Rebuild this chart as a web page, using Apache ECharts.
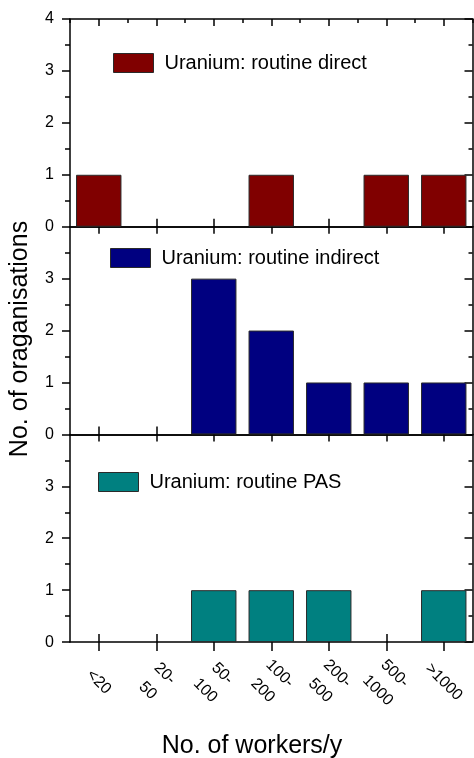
<!DOCTYPE html>
<html>
<head>
<meta charset="utf-8">
<script src="https://cdn.jsdelivr.net/npm/echarts@6/dist/echarts.min.js"></script>
<style>
html,body{margin:0;padding:0;background:#fff;}
#chart{width:474px;height:758px;}
</style>
</head>
<body>
<div id="chart"></div>
<script>
// ---- data ----
const categories = ['<20', '20-\n50', '50-\n100', '100-\n200', '200-\n500', '500-\n1000', '>1000'];
const routineDirect = [1, 0, 0, 1, 0, 1, 1];
const routineIndirect = [0, 0, 3, 2, 1, 1, 1];
const routinePAS = [0, 0, 1, 1, 1, 0, 1];
const seriesNames = ['Uranium: routine direct', 'Uranium: routine indirect', 'Uranium: routine PAS'];
const seriesColors = ['#800000', '#000080', '#008080'];
const yMin = 0, yMax = 4, yStep = 1;
const xTitle = 'No. of workers/y';
const yTitle = 'No. of oraganisations';

// ---- layout ----
const FONT = '"Liberation Sans", Arial, sans-serif';
const panelTop = 19, panelH = 207.7, plotLeft = 70, plotRight = 1.5;
const legendPos = [[113, 53], [110, 248], [98, 472]];
const allData = [routineDirect, routineIndirect, routinePAS];
const lineStyle = { color: '#000', width: 1.5 };

const grids = [], xAxes = [], yAxes = [], series = [], legends = [];

function panelGrid(i) {
  return { left: plotLeft, right: plotRight, top: panelTop + i * panelH, height: panelH,
           containLabel: false, outerBoundsMode: 'none' };
}
// value axis spanning the category slots: major ticks fall on category edges,
// minor ticks (half steps) fall on category centres
function tickAxis(g, position, inside, edgeLen, centreLen) {
  return {
    type: 'value', gridIndex: g, position, min: 0, max: categories.length, interval: 1,
    axisLine: { show: false, onZero: false },
    axisTick: { show: edgeLen > 0, inside, length: edgeLen, lineStyle },
    minorTick: { show: true, splitNumber: 2, length: centreLen, lineStyle },
    axisLabel: { show: false }, splitLine: { show: false }, minorSplitLine: { show: false }
  };
}
function hiddenY(g) {
  return { type: 'value', gridIndex: g, min: yMin, max: yMax, show: false };
}

for (let i = 0; i < 3; i++) {
  grids.push(panelGrid(i));
  const isBottom = i === 2;
  const mainX = xAxes.length;
  xAxes.push({
    type: 'category', gridIndex: i, data: categories, position: 'bottom',
    axisLine: { show: true, onZero: false, lineStyle },
    axisTick: { show: false },
    axisLabel: isBottom ? {
      show: true, interval: 0, rotate: -45, align: 'center', verticalAlign: 'middle',
      margin: 40, fontSize: 16, lineHeight: 24, color: '#000', fontFamily: FONT
    } : { show: false },
    splitLine: { show: false }
  });
  xAxes.push({
    type: 'category', gridIndex: i, data: categories, position: 'top',
    axisLine: { show: true, onZero: false, lineStyle },
    axisTick: { show: false }, axisLabel: { show: false }, splitLine: { show: false }
  });
  const mainY = yAxes.length;
  yAxes.push({
    type: 'value', gridIndex: i, min: yMin, max: yMax, interval: yStep, position: 'left',
    axisLine: { show: true, onZero: false, lineStyle },
    axisTick: { show: true, inside: false, length: 8, lineStyle },
    minorTick: { show: true, splitNumber: 2, length: 5, lineStyle },
    axisLabel: {
      show: true, margin: 16, fontSize: 16, color: '#000', fontFamily: FONT,
      formatter: v => (i > 0 && v === yMax) ? '' : String(v)
    },
    splitLine: { show: false }, minorSplitLine: { show: false }
  });
  yAxes.push({
    type: 'value', gridIndex: i, min: yMin, max: yMax, interval: yStep, position: 'right',
    axisLine: { show: true, onZero: false, lineStyle },
    axisTick: { show: true, inside: true, length: 8, lineStyle },
    minorTick: { show: true, splitNumber: 2, length: 4, lineStyle },
    axisLabel: { show: false },
    splitLine: { show: false }, minorSplitLine: { show: false }
  });
  series.push({
    type: 'bar', name: seriesNames[i], xAxisIndex: mainX, yAxisIndex: mainY,
    data: allData[i].map(v => (v === 0 ? null : v)),
    barWidth: '79%',
    itemStyle: { color: seriesColors[i], borderColor: '#2a2a2a', borderWidth: 1 },
    emphasis: { disabled: true }
  });
  legends.push({
    data: [seriesNames[i]], left: legendPos[i][0], top: legendPos[i][1], padding: 0,
    icon: 'rect', itemWidth: 40, itemHeight: 19,
    itemStyle: { borderColor: '#2a2a2a', borderWidth: 1 },
    textStyle: { fontSize: 20, color: '#000', fontFamily: FONT, padding: [0, 0, 0, 6] },
    selectedMode: false
  });
}

// overlay grids carrying the tick marks of each panel (top and bottom edges)
for (let i = 0; i < 3; i++) {
  grids.push(panelGrid(i));
  const g = grids.length - 1;
  xAxes.push(tickAxis(g, 'bottom', true, 0, 8));
  xAxes.push(tickAxis(g, 'top', true, i === 0 ? 4 : 0, 7));
  yAxes.push(hiddenY(g));
}
// bottom panel: outward centre ticks below the axis
grids.push(panelGrid(2));
xAxes.push(tickAxis(grids.length - 1, 'bottom', false, 0, 9));
yAxes.push(hiddenY(grids.length - 1));

const chart = echarts.init(document.getElementById('chart'), null, { renderer: 'canvas' });
chart.setOption({
  animation: false,
  backgroundColor: '#fff',
  textStyle: { fontFamily: FONT },
  grid: grids, xAxis: xAxes, yAxis: yAxes, series, legend: legends,
  graphic: [
    { type: 'text', x: 20, y: 339, rotation: Math.PI / 2,
      style: { text: yTitle, fontSize: 25, fontFamily: FONT, fill: '#000', align: 'center', verticalAlign: 'middle' } },
    { type: 'text', x: 252, y: 746,
      style: { text: xTitle, fontSize: 25, fontFamily: FONT, fill: '#000', align: 'center', verticalAlign: 'middle' } }
  ]
});
</script>
</body>
</html>
